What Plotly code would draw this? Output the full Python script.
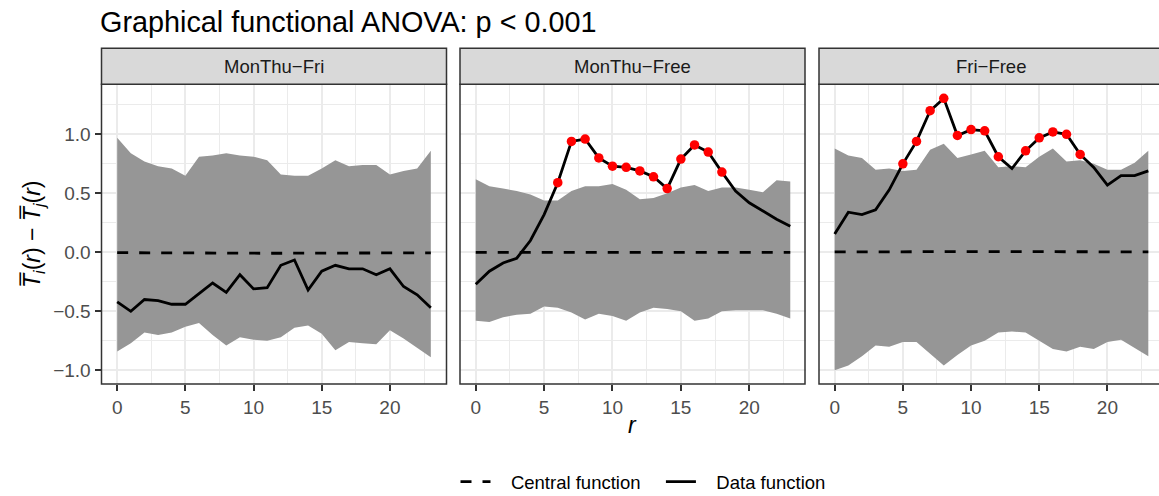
import plotly.graph_objects as go

r = list(range(24))
panels = ["MonThu\u2212Fri", "MonThu\u2212Free", "Fri\u2212Free"]

p1_data = [-0.42, -0.50, -0.40, -0.41, -0.44, -0.44, -0.35, -0.26, -0.34, -0.19, -0.31, -0.30,
           -0.11, -0.065, -0.32, -0.16, -0.11, -0.14, -0.14, -0.19, -0.14, -0.29, -0.36, -0.47]
p1_upper = [0.97, 0.84, 0.77, 0.73, 0.71, 0.65, 0.81, 0.82, 0.84, 0.82, 0.81, 0.78,
            0.66, 0.65, 0.65, 0.71, 0.78, 0.73, 0.74, 0.74, 0.66, 0.69, 0.71, 0.86]
p1_lower = [-0.84, -0.77, -0.68, -0.70, -0.68, -0.63, -0.60, -0.70, -0.79, -0.72, -0.74, -0.75,
            -0.72, -0.64, -0.62, -0.69, -0.83, -0.76, -0.77, -0.78, -0.66, -0.73, -0.81, -0.89]
p1_central = [-0.003, -0.004, -0.004, -0.005, -0.005, -0.005, -0.006, -0.006, -0.007, -0.007, -0.008, -0.008,
              -0.008, -0.008, -0.007, -0.007, -0.006, -0.006, -0.005, -0.005, -0.004, -0.004, -0.004, -0.004]

p2_data = [-0.27, -0.16, -0.09, -0.05, 0.10, 0.32, 0.59, 0.94, 0.96, 0.80, 0.73, 0.72,
           0.69, 0.64, 0.54, 0.79, 0.91, 0.85, 0.68, 0.52, 0.42, 0.35, 0.28, 0.22]
p2_upper = [0.62, 0.56, 0.54, 0.52, 0.49, 0.44, 0.44, 0.52, 0.56, 0.56, 0.58, 0.53,
            0.45, 0.46, 0.50, 0.55, 0.57, 0.52, 0.55, 0.55, 0.53, 0.51, 0.61, 0.60]
p2_lower = [-0.58, -0.59, -0.55, -0.53, -0.52, -0.46, -0.47, -0.51, -0.57, -0.52, -0.54, -0.58,
            -0.51, -0.47, -0.48, -0.50, -0.58, -0.56, -0.50, -0.49, -0.49, -0.49, -0.52, -0.56]
p2_central = [0.000, 0.000, -0.001, -0.001, 0.000, 0.000, 0.000, -0.001, -0.001, -0.002, -0.002, -0.002,
              -0.002, -0.002, -0.002, -0.001, -0.001, -0.001, 0.000, 0.000, 0.000, 0.000, 0.000, 0.000]

p3_data = [0.155, 0.34, 0.32, 0.36, 0.53, 0.75, 0.94, 1.20, 1.305, 0.99, 1.04, 1.03,
           0.81, 0.71, 0.86, 0.97, 1.02, 1.00, 0.83, 0.72, 0.57, 0.65, 0.65, 0.69]
p3_upper = [0.88, 0.82, 0.80, 0.70, 0.71, 0.69, 0.70, 0.87, 0.92, 0.80, 0.83, 0.86,
            0.72, 0.73, 0.72, 0.81, 0.88, 0.77, 0.78, 0.75, 0.70, 0.70, 0.76, 0.86]
p3_lower = [-1.00, -0.96, -0.88, -0.79, -0.80, -0.76, -0.76, -0.86, -0.96, -0.87, -0.79, -0.75,
            -0.68, -0.67, -0.68, -0.75, -0.82, -0.84, -0.80, -0.82, -0.76, -0.74, -0.81, -0.88]
p3_central = [0.003, 0.004, 0.004, 0.005, 0.005, 0.005, 0.005, 0.006, 0.006, 0.006, 0.006, 0.006,
              0.006, 0.005, 0.005, 0.005, 0.004, 0.004, 0.004, 0.004, 0.004, 0.004, 0.004, 0.004]

x_ticks = [0, 5, 10, 15, 20]
y_ticks = [-1.0, -0.5, 0.0, 0.5, 1.0]
legend_names = ["Central function", "Data function"]

series = [
    (p1_data, p1_upper, p1_lower, p1_central),
    (p2_data, p2_upper, p2_lower, p2_central),
    (p3_data, p3_upper, p3_lower, p3_central),
]

W = 1159
H = 501  # 5px taller than the window; overflow is hidden so the legend sits lower
FONT = "Liberation Sans"
BAND = "#969696"
GRID = "#EBEBEB"
DARK = "#333333"
NB = "\u00a0"

# panel pixel extents (measured from the top-left of the page)
px_left = [101.5, 460.0, 819.0]
px_right = [446.5, 806.0, 1159.0]
full_w = 345.0
top_px, bot_px = 84.3, 384.0
strip_top_px = 48.3

ppu = full_w / 25.3  # pixels per unit in x
xr = [[-1.15, 24.15], [-1.15, 24.15], [-1.15, -1.15 + (px_right[2] - px_left[2]) / ppu]]

fig = go.Figure()

for i, (d, up, lo, ce) in enumerate(series):
    xa = "x" if i == 0 else f"x{i+1}"
    ya = "y" if i == 0 else f"y{i+1}"
    fig.add_trace(go.Scatter(x=r + r[::-1], y=up + lo[::-1], fill="toself", fillcolor=BAND,
                             line=dict(width=0), mode="lines", hoverinfo="skip",
                             showlegend=False, xaxis=xa, yaxis=ya))
    fig.add_trace(go.Scatter(x=r, y=ce, mode="lines", name=NB * 3 + legend_names[0] + NB * 3,
                             line=dict(color="black", width=2.8, dash="11px,11px"),
                             showlegend=(i == 0), legendrank=1, xaxis=xa, yaxis=ya))
    fig.add_trace(go.Scatter(x=r, y=d, mode="lines", name=NB * 3 + legend_names[1],
                             line=dict(color="black", width=2.8),
                             showlegend=(i == 0), legendrank=2, xaxis=xa, yaxis=ya))
    sig_x = [rr for rr, v, u, l in zip(r, d, up, lo) if v > u or v < l]
    sig_y = [v for v, u, l in zip(d, up, lo) if v > u or v < l]
    if sig_x:
        fig.add_trace(go.Scatter(x=sig_x, y=sig_y, mode="markers",
                                 marker=dict(color="#FF0000", size=9.5, line=dict(width=0)),
                                 showlegend=False, hoverinfo="skip", xaxis=xa, yaxis=ya))

layout = dict(
    width=W, height=H,
    margin=dict(l=0, r=0, t=0, b=0),
    paper_bgcolor="white", plot_bgcolor="white",
    font=dict(family=FONT, color="#4D4D4D", size=19),
    showlegend=True,
    legend=dict(orientation="h", x=643 / W, xanchor="center", y=0, yanchor="bottom",
                font=dict(family=FONT, size=18.5, color="black"), bgcolor="rgba(0,0,0,0)",
                traceorder="normal"),
    title=dict(text="Graphical functional ANOVA: p < 0.001", x=100 / W, xanchor="left",
               xref="paper", y=1 - 22 / H, yanchor="middle", yref="container",
               font=dict(family=FONT, size=28.8, color="black")),
)

shapes = []
annotations = []
y_dom = [1 - bot_px / H, 1 - top_px / H]
strip_y = [1 - top_px / H, 1 - strip_top_px / H]
for i in range(3):
    sfx = "" if i == 0 else str(i + 1)
    dom = [px_left[i] / W, px_right[i] / W]
    ext = full_w / (px_right[i] - px_left[i])
    layout[f"xaxis{sfx}"] = dict(
        domain=dom, range=xr[i], anchor=f"y{sfx}",
        tickmode="array", tickvals=x_ticks, ticktext=[str(t) for t in x_ticks],
        ticks="outside", ticklen=6, tickwidth=1.6, tickcolor=DARK,
        tickfont=dict(family=FONT, size=19, color="#4D4D4D"),
        showgrid=True, gridcolor=GRID, gridwidth=2.2, zeroline=False, showline=False,
        minor=dict(tickvals=[2.5, 7.5, 12.5, 17.5, 22.5], showgrid=True, gridcolor=GRID,
                   gridwidth=1.1, ticks=""),
    )
    layout[f"yaxis{sfx}"] = dict(
        domain=y_dom, range=[-1.116, 1.424], anchor=f"x{sfx}",
        tickmode="array", tickvals=y_ticks, ticktext=[f"{t:.1f}".replace("-", "\u2212") for t in y_ticks],
        ticks="outside" if i == 0 else "", ticklen=6, tickwidth=1.6, tickcolor=DARK,
        showticklabels=(i == 0),
        tickfont=dict(family=FONT, size=19, color="#4D4D4D"),
        showgrid=True, gridcolor=GRID, gridwidth=2.2, zeroline=False, showline=False,
        minor=dict(tickvals=[-0.75, -0.25, 0.25, 0.75, 1.25], showgrid=True, gridcolor=GRID,
                   gridwidth=1.1, ticks=""),
    )
    xd = f"x{sfx} domain"
    shapes.append(dict(type="rect", xref=xd, yref="paper", x0=0, x1=ext, y0=y_dom[0], y1=y_dom[1],
                       line=dict(color=DARK, width=1.5), fillcolor="rgba(0,0,0,0)", layer="above"))
    shapes.append(dict(type="rect", xref=xd, yref="paper", x0=0, x1=ext, y0=strip_y[0], y1=strip_y[1],
                       line=dict(color=DARK, width=1.5), fillcolor="#D9D9D9", layer="above"))
    annotations.append(dict(text=panels[i], xref=xd, yref="paper", x=ext / 2, y=sum(strip_y) / 2,
                            xanchor="center", yanchor="middle", showarrow=False,
                            font=dict(family=FONT, size=18.5, color="#1A1A1A")))

annotations.append(dict(text="<i>r</i>", xref="paper", yref="paper", x=632.7 / W, y=1 - 425 / H,
                        xanchor="center", yanchor="middle", showarrow=False,
                        font=dict(family=FONT, size=23, color="black")))
annotations.append(dict(text="<i>T\u0305</i><sub><i>i</i></sub>(<i>r</i>) \u2212 <i>T\u0305</i><sub><i>j</i></sub>(<i>r</i>)",
                        xref="paper", yref="paper", x=33 / W, y=1 - 234 / H, textangle=-90,
                        xanchor="center", yanchor="middle", showarrow=False,
                        font=dict(family=FONT, size=23, color="black")))

layout["shapes"] = shapes
layout["annotations"] = annotations
fig.update_layout(**layout)

fig.write_html("out.html", config={"displayModeBar": False},
               post_script="document.body.style.margin='0';document.body.style.overflow='hidden';")
